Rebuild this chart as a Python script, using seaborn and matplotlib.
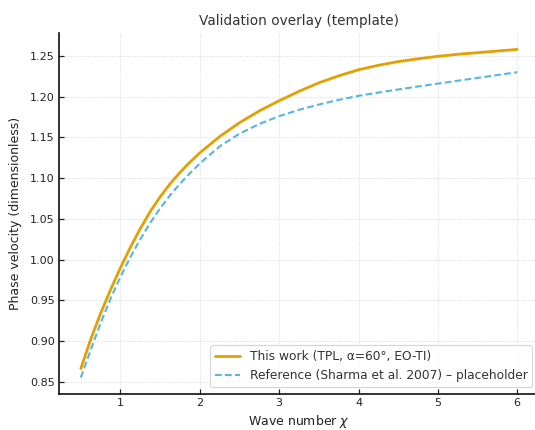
import numpy as np
import pandas as pd
import matplotlib
matplotlib.use("Agg")
import matplotlib.pyplot as plt
import seaborn as sns

wave_number = [0.5, 0.625, 0.75, 0.875, 1.0, 1.125, 1.25, 1.375, 1.5, 1.625, 1.75, 1.875,
               2.0, 2.25, 2.5, 2.75, 3.0, 3.25, 3.5, 3.75, 4.0, 4.25, 4.5, 4.75,
               5.0, 5.25, 5.5, 5.75, 6.0]
this_work = [0.866, 0.902, 0.934, 0.963, 0.990, 1.015, 1.038, 1.059, 1.077, 1.093, 1.107, 1.1195,
             1.131, 1.151, 1.168, 1.1825, 1.195, 1.2065, 1.217, 1.2255, 1.233, 1.2385, 1.243, 1.2465,
             1.2495, 1.252, 1.254, 1.256, 1.258]
reference = [0.855, 0.889, 0.922, 0.952, 0.979, 1.003, 1.025, 1.045, 1.063, 1.079, 1.093, 1.106,
             1.118, 1.139, 1.1545, 1.1665, 1.176, 1.1838, 1.1903, 1.196, 1.201, 1.205, 1.2088, 1.2125,
             1.216, 1.2195, 1.223, 1.2265, 1.230]
series_names = ["This work (TPL, α=60°, EO-TI)",
                "Reference (Sharma et al. 2007) – placeholder"]

sns.set_theme(style="ticks")
plt.rcParams['font.family'] = ['DejaVu Sans']
plt.rcParams.update({
    "text.color": "#333333", "axes.labelcolor": "#222222",
    "xtick.color": "#222222", "ytick.color": "#222222",
    "xtick.direction": "in", "ytick.direction": "in",
})

df = pd.DataFrame({
    "x": wave_number * 2,
    "y": this_work + reference,
    "series": [series_names[0]] * len(wave_number) + [series_names[1]] * len(wave_number),
})

fig = plt.figure(figsize=(5.35, 4.3), dpi=100)
ax = fig.add_axes([59 / 535, 36 / 430, 480 / 535, 361 / 430])

sns.lineplot(data=df[df.series == series_names[0]], x="x", y="y", ax=ax,
             color="#E69F00", linewidth=2.0, label=series_names[0])
sns.lineplot(data=df[df.series == series_names[1]], x="x", y="y", ax=ax,
             color="#56B4E9", linewidth=1.5, linestyle=(0, (3.2, 1.6)), label=series_names[1])

ax.grid(True, linestyle=":", linewidth=0.6, color="#d0d0d0")
sns.despine(ax=ax)
for s in ["left", "bottom"]:
    ax.spines[s].set_linewidth(1.2)
    ax.spines[s].set_color("#111111")
ax.tick_params(axis="both", labelsize=8, length=3.5, width=0.9, pad=3)

ax.set_title("Validation overlay (template)", fontsize=9.8, color="#333333", pad=5.5)
ax.set_xlabel("Wave number $\\chi$", fontsize=9, labelpad=3.5)
ax.set_ylabel("Phase velocity (dimensionless)", fontsize=9, labelpad=6)

leg = ax.legend(loc="lower right", fontsize=8.8, frameon=True, fancybox=True,
                borderaxespad=0.55, handlelength=2.0)
leg.get_frame().set_edgecolor("#cccccc")
leg.get_frame().set_linewidth(0.8)
for t in leg.get_texts():
    t.set_color("#333333")

fig.savefig("out.png", dpi=100)
